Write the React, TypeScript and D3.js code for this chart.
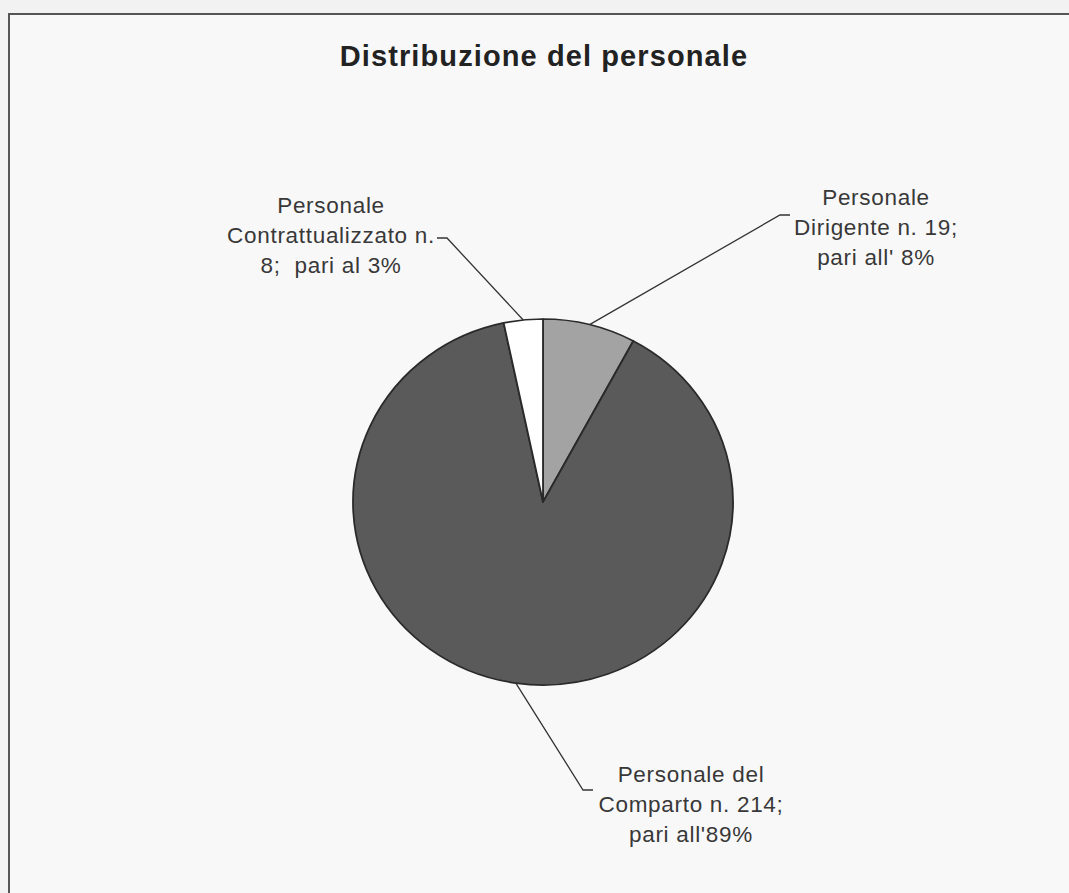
import { useEffect, useRef } from "react";
import * as d3 from "d3";

// Data
const categories = ["Personale Dirigente", "Personale del Comparto", "Personale Contrattualizzato"];
const counts = [19, 214, 8];
const labelLines = [
    ["Personale", "Dirigente n. 19;", "pari all' 8%"],
    ["Personale del", "Comparto n. 214;", "pari all'89%"],
    ["Personale", "Contrattualizzato n.", "8;  pari al 3%"],
];
const sliceColors = ["#a3a3a3", "#5a5a5a", "#ffffff"];

const App = () => {
    const ref = useRef<SVGSVGElement | null>(null);

    useEffect(() => {
        if (!ref.current) return;
        const width = 1069;
        const height = 893;
        const svg = d3.select(ref.current);
        svg.selectAll("*").remove();
        svg.attr("width", width).attr("height", height);

        // page + chart frame
        svg.append("rect").attr("width", width).attr("height", height).attr("fill", "#f2f2f2");
        svg.append("rect")
            .attr("x", 9).attr("y", 14)
            .attr("width", width + 20).attr("height", height + 20)
            .attr("fill", "#f8f8f8")
            .attr("stroke", "#555").attr("stroke-width", 2);

        // title
        svg.append("text")
            .attr("x", 544).attr("y", 66)
            .attr("text-anchor", "middle")
            .attr("font-family", "Liberation Sans, Arial, sans-serif")
            .attr("font-weight", "bold")
            .attr("font-size", 29)
            .attr("letter-spacing", 1.1)
            .attr("fill", "#222")
            .text("Distribuzione del personale");

        const cx = 543, cy = 502, r = 190, sy = 183 / 190;

        const pie = d3.pie<number>().sort(null).value(d => d);
        const arcs = pie(counts);
        const arc = d3.arc<d3.PieArcDatum<number>>().innerRadius(0).outerRadius(r);

        const g = svg.append("g").attr("transform", `translate(${cx},${cy}) scale(1,${sy})`);
        g.selectAll("path")
            .data(arcs)
            .enter().append("path")
            .attr("d", d => arc(d) as string)
            .attr("fill", (_, i) => sliceColors[i])
            .attr("stroke", "#2a2a2a")
            .attr("stroke-width", 1.8)
            .attr("stroke-linejoin", "round");

        // label layout: text centre/first baseline, and where the leader meets the text
        const labelPos = [
            { tx: 876, ty: 205, lx: 790, ly: 215 },
            { tx: 691, ty: 782, lx: 593, ly: 790 },
            { tx: 331, ty: 213, lx: 437, ly: 238 },
        ];

        arcs.forEach((a, i) => {
            const mid = (a.startAngle + a.endAngle) / 2;
            const px = cx + r * Math.sin(mid);
            const py = cy - r * sy * Math.cos(mid);
            const p = labelPos[i];
            const dir = p.lx > px ? -1 : 1;
            const bendX = p.lx + dir * 10;
            svg.append("path")
                .attr("d", `M${px},${py}L${bendX},${p.ly}L${p.lx},${p.ly}`)
                .attr("fill", "none")
                .attr("stroke", "#333")
                .attr("stroke-width", 1.3);

            const t = svg.append("text")
                .attr("text-anchor", "middle")
                .attr("font-family", "Liberation Sans, Arial, sans-serif")
                .attr("font-size", 22.5)
                .attr("letter-spacing", 0.7)
                .attr("fill", "#383838")
                .style("white-space", "pre")
                .attr("data-category", categories[i]);
            labelLines[i].forEach((line, j) => {
                t.append("tspan")
                    .attr("x", p.tx)
                    .attr("y", p.ty + j * 30)
                    .text(line);
            });
        });
    }, []);

    return (
        <svg ref={ref} style={{ position: "absolute", left: 0, top: 0, display: "block" }}></svg>
    );
};

export default App;
